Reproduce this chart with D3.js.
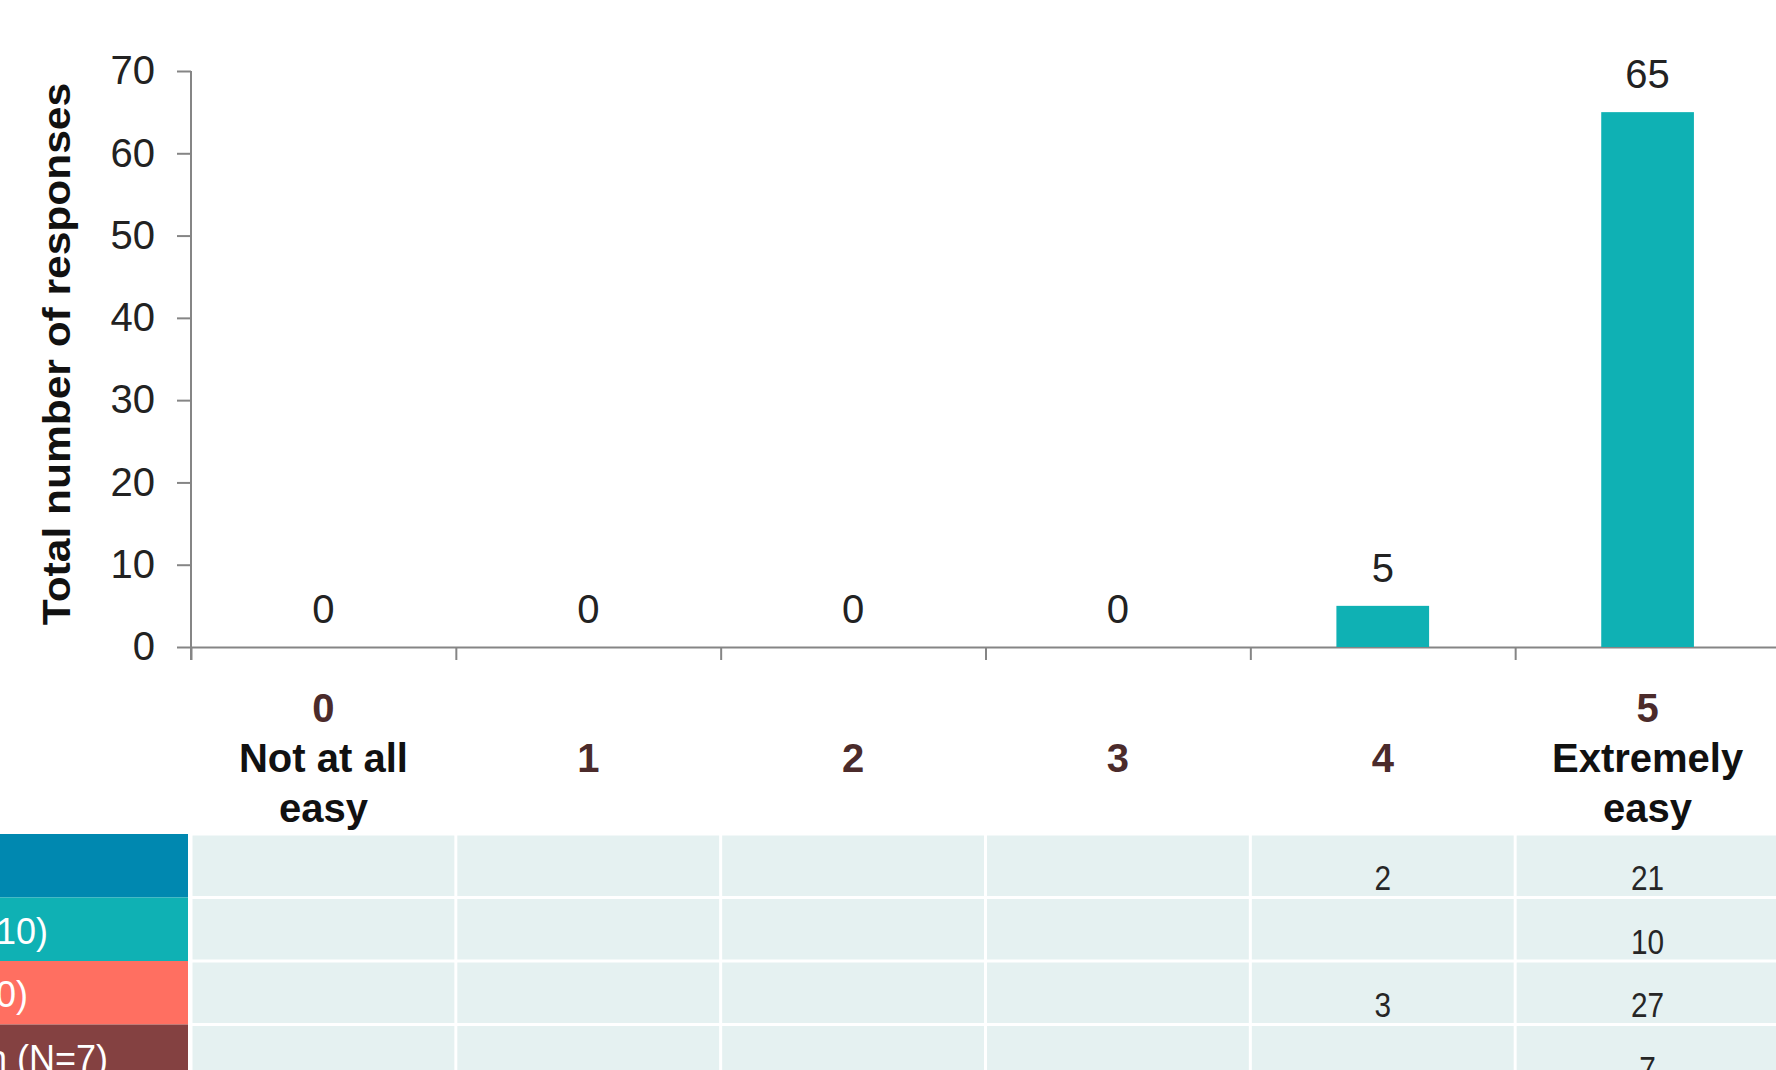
<!DOCTYPE html>
<html>
<head>
<meta charset="utf-8">
<title>Total number of responses</title>
<script src="https://cdn.jsdelivr.net/npm/d3@7"></script>
<style>
  body { margin: 0; background: #fff; overflow: hidden; }
  svg { display: block; font-family: "Liberation Sans", Arial, sans-serif; }
</style>
</head>
<body>
<script>
// chart data
var categories = ["0", "1", "2", "3", "4", "5"];
var categoryWords = [["Not at all", "easy"], [], [], [], [], ["Extremely", "easy"]];
var totals = [0, 0, 0, 0, 5, 65];
var yTicks = [0, 10, 20, 30, 40, 50, 60, 70];

// table below the chart (rows cropped on the left in the original)
var groupNames = ["(N=23)", "(N=10)", "(N=30)", "n (N=7)"];
var groupColors = ["#0088b0", "#0fb1b4", "#ff6f61", "#844141"];
var groupValues = [
  [null, null, null, null, 2, 21],
  [null, null, null, null, null, 10],
  [null, null, null, null, 3, 27],
  [null, null, null, null, null, 7]
];
var labelEnds = [-20, 48, 28, 108];

var W = 1776, H = 1070;
var plot = {left: 191, right: 1780, top: 71, bottom: 647};
var table = {top: 834, rowH: 63.5, labelW: 188};

var svg = d3.select("body").append("svg")
    .attr("width", W)
    .attr("height", H);

var x = d3.scaleBand()
    .domain(categories)
    .range([plot.left, plot.right])
    .padding(0);
var xEdges = d3.scaleLinear().domain([0, 6]).range([plot.left, plot.right]);
var y = d3.scaleLinear().domain([0, 70]).range([plot.bottom, plot.top]);

var axisColor = "#858585";

// y axis
var yAxis = svg.append("g")
    .attr("transform", "translate(" + plot.left + ",0)")
    .call(d3.axisLeft(y).tickValues(yTicks).tickSize(14).tickSizeOuter(0).tickPadding(22));
yAxis.select(".domain").attr("stroke", axisColor).attr("stroke-width", 2)
    .attr("d", "M0," + (plot.top) + "V" + (plot.bottom + 13));
yAxis.selectAll(".tick line").attr("stroke", axisColor).attr("stroke-width", 2);
yAxis.selectAll(".tick text")
    .attr("font-size", 40)
    .attr("font-family", "Liberation Sans, Arial, sans-serif")
    .attr("fill", "#222");

// x axis, ticks on category boundaries
var xAxis = svg.append("g")
    .attr("transform", "translate(0," + plot.bottom + ")")
    .call(d3.axisBottom(xEdges).ticks(6).tickSize(13).tickSizeOuter(0).tickFormat(""));
xAxis.select(".domain").attr("stroke", axisColor).attr("stroke-width", 2);
xAxis.selectAll(".tick line").attr("stroke", axisColor).attr("stroke-width", 2);

// y axis title
svg.append("text")
    .attr("transform", "translate(70,354) rotate(-90) scale(1,0.92)")
    .attr("text-anchor", "middle")
    .attr("font-size", 42.5)
    .attr("font-weight", "bold")
    .attr("fill", "#111")
    .text("Total number of responses");

// bars
var barW = x.step() * 0.35;
svg.selectAll("rect.bar")
    .data(totals)
    .enter().append("rect")
    .attr("class", "bar")
    .attr("x", function(d, i) { return x(categories[i]) + (x.step() - barW) / 2; })
    .attr("y", function(d) { return y(d); })
    .attr("width", barW)
    .attr("height", function(d) { return y(0) - y(d); })
    .attr("fill", "#0fb1b4");

// value labels
svg.selectAll("text.val")
    .data(totals)
    .enter().append("text")
    .attr("class", "val")
    .attr("x", function(d, i) { return x(categories[i]) + x.step() / 2; })
    .attr("y", function(d) { return y(d) - 24; })
    .attr("text-anchor", "middle")
    .attr("font-size", 40)
    .attr("fill", "#222")
    .text(function(d) { return d; });

// category labels
var catG = svg.selectAll("g.cat")
    .data(categories)
    .enter().append("g")
    .attr("class", "cat")
    .attr("transform", function(d) { return "translate(" + (x(d) + x.step() / 2) + ",0)"; });
catG.append("text")
    .attr("y", function(d, i) { return categoryWords[i].length ? 722 : 772; })
    .attr("text-anchor", "middle")
    .attr("font-size", 40)
    .attr("font-weight", "bold")
    .attr("fill", "#4b2b2b")
    .text(function(d) { return d; });
catG.each(function(d, i) {
  d3.select(this).selectAll("text.word")
    .data(categoryWords[i])
    .enter().append("text")
    .attr("class", "word")
    .attr("y", function(w, j) { return 772 + j * 50; })
    .attr("text-anchor", "middle")
    .attr("font-size", 40)
    .attr("font-weight", "bold")
    .attr("fill", "#111")
    .text(function(w) { return w; });
});

// table
var rows = svg.selectAll("g.row")
    .data(groupValues)
    .enter().append("g")
    .attr("class", "row")
    .attr("transform", function(d, i) { return "translate(0," + (table.top + i * table.rowH) + ")"; });

rows.append("rect")
    .attr("x", 0)
    .attr("y", 0)
    .attr("width", table.labelW)
    .attr("height", table.rowH)
    .attr("fill", function(d, i) { return groupColors[i]; });

rows.append("text")
    .attr("x", function(d, i) { return labelEnds[i]; })
    .attr("y", 46)
    .attr("text-anchor", "end")
    .attr("font-size", 36)
    .attr("fill", "#fff")
    .text(function(d, i) { return groupNames[i]; });

rows.each(function(vals) {
  var g = d3.select(this);
  g.selectAll("rect.cell")
    .data(vals)
    .enter().append("rect")
    .attr("class", "cell")
    .attr("x", function(v, j) { return x(categories[j]) + 1.5; })
    .attr("y", 1.5)
    .attr("width", x.step() - 3)
    .attr("height", table.rowH - 3)
    .attr("fill", "#e5f1f1");
  g.selectAll("text.cellval")
    .data(vals)
    .enter().append("text")
    .attr("class", "cellval")
    .attr("transform", function(v, j) {
      return "translate(" + (x(categories[j]) + x.step() / 2) + ",56) scale(0.85,1)";
    })
    .attr("text-anchor", "middle")
    .attr("font-size", 35)
    .attr("fill", "#262626")
    .text(function(v) { return v == null ? "" : v; });
});
</script>
</body>
</html>
